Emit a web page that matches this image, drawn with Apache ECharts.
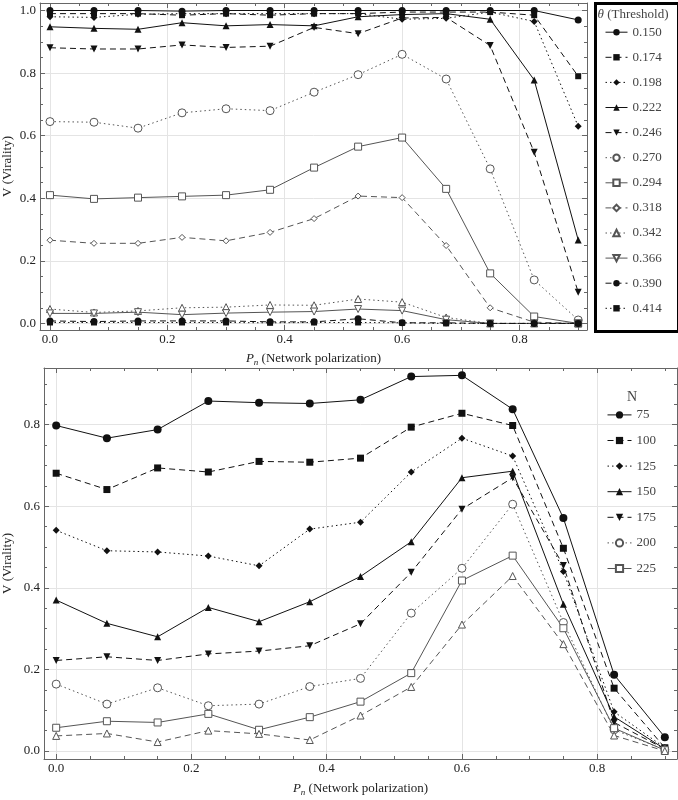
<!DOCTYPE html>
<html><head><meta charset="utf-8">
<script src="https://cdn.jsdelivr.net/npm/echarts@6/dist/echarts.min.js"></script>
<style>html,body{margin:0;padding:0;background:#fff}#c{width:678px;height:800px}</style>
</head><body><div id="c"></div>
<script>
// x positions (P_n)
var xValues = [0, 0.075, 0.15, 0.225, 0.3, 0.375, 0.45, 0.525, 0.6, 0.675, 0.75, 0.825, 0.9];

// Top panel: theta thresholds
var thetaNames = ['0.150','0.174','0.198','0.222','0.246','0.270','0.294','0.318','0.342','0.366','0.390','0.414'];
var t150 = [1.0, 1.0, 1.0, 0.998, 1.0, 1.0, 1.0, 1.0, 1.0, 1.0, 1.0, 1.0, 0.97];
var t174 = [0.99, 0.99, 0.99, 0.985, 0.99, 0.985, 0.99, 0.99, 0.995, 0.995, 0.995, 0.985, 0.79];
var t198 = [0.98, 0.978, 0.988, 0.99, 0.99, 0.99, 0.99, 0.99, 0.972, 0.975, 0.995, 0.965, 0.63];
var t222 = [0.948, 0.943, 0.94, 0.961, 0.951, 0.955, 0.951, 0.98, 0.987, 0.99, 0.972, 0.778, 0.267];
var t246 = [0.881, 0.877, 0.877, 0.89, 0.882, 0.886, 0.946, 0.926, 0.976, 0.978, 0.888, 0.547, 0.1];
var t270 = [0.645, 0.643, 0.624, 0.673, 0.686, 0.68, 0.739, 0.795, 0.86, 0.781, 0.494, 0.139, 0.011];
var t294 = [0.41, 0.398, 0.402, 0.406, 0.41, 0.427, 0.498, 0.565, 0.594, 0.43, 0.16, 0.022, 0.0];
var t318 = [0.266, 0.256, 0.256, 0.275, 0.264, 0.291, 0.335, 0.407, 0.402, 0.249, 0.05, 0.004, 0.0];
var t342 = [0.046, 0.035, 0.04, 0.05, 0.052, 0.059, 0.058, 0.078, 0.068, 0.019, 0.0, 0.0, 0.0];
var t366 = [0.032, 0.032, 0.036, 0.028, 0.033, 0.036, 0.038, 0.046, 0.041, 0.012, 0.0, 0.0, 0.0];
var t390 = [0.008, 0.006, 0.008, 0.008, 0.008, 0.005, 0.005, 0.015, 0.002, 0.002, 0.0, 0.0, 0.0];
var t414 = [0.003, 0.003, 0.003, 0.003, 0.003, 0.002, 0.003, 0.003, 0.002, 0.0, 0.0, 0.0, 0.0];

// Bottom panel: N
var nNames = ['75','100','125','150','175','200','225','250'];
var n75  = [0.798, 0.767, 0.788, 0.858, 0.854, 0.852, 0.861, 0.918, 0.921, 0.838, 0.571, 0.187, 0.034];
var n100 = [0.681, 0.641, 0.694, 0.684, 0.71, 0.708, 0.718, 0.794, 0.828, 0.798, 0.497, 0.154, 0.008];
var n125 = [0.541, 0.491, 0.488, 0.478, 0.454, 0.544, 0.561, 0.684, 0.767, 0.723, 0.44, 0.096, 0.008];
var n150 = [0.37, 0.313, 0.28, 0.352, 0.317, 0.366, 0.428, 0.513, 0.67, 0.686, 0.36, 0.084, 0.005];
var n175 = [0.222, 0.231, 0.222, 0.238, 0.245, 0.258, 0.312, 0.438, 0.593, 0.67, 0.455, 0.07, 0.005];
var n200 = [0.164, 0.115, 0.155, 0.111, 0.115, 0.158, 0.178, 0.338, 0.448, 0.605, 0.315, 0.052, 0.003];
var n225 = [0.057, 0.073, 0.07, 0.091, 0.052, 0.083, 0.121, 0.191, 0.418, 0.479, 0.301, 0.056, 0.002];
var n250 = [0.037, 0.043, 0.022, 0.05, 0.042, 0.027, 0.087, 0.157, 0.31, 0.429, 0.262, 0.038, 0.0];

var topData = [t150,t174,t198,t222,t246,t270,t294,t318,t342,t366,t390,t414];
var botData = [n75,n100,n125,n150,n175,n200,n225,n250];

var FONT = '"Liberation Serif", "DejaVu Serif", serif';
var DOWN = 'path://M0,0L10,0L5,9Z';
var BLACK = '#111', GRAY = '#555';

// style definitions: [symbol, filled, lineType, size]
var DASH = [6,4], DOT = [1.5,3];
var topStyles = [
  ['circle',true,'solid',7],['rect',true,DASH,6],['diamond',true,DOT,7],['triangle',true,'solid',7],
  [DOWN,true,DASH,7],['circle',false,DOT,8],['rect',false,'solid',7],['diamond',false,DASH,6],
  ['triangle',false,DOT,7],[DOWN,false,'solid',7],['circle',true,DASH,7],['rect',true,DOT,6]
];
var botStyles = [
  ['circle',true,'solid',8],['rect',true,DASH,7],['diamond',true,DOT,7],['triangle',true,'solid',7],
  [DOWN,true,DASH,7],['circle',false,DOT,8],['rect',false,'solid',7],['triangle',false,DASH,7]
];

function pairs(arr){ return xValues.map(function(x,i){ return [x, arr[i]]; }); }
function mkSeries(name, arr, st, xi, yi){
  var col = st[1] ? BLACK : GRAY;
  return {
    type:'line', name:name, xAxisIndex:xi, yAxisIndex:yi, data:pairs(arr),
    symbol:st[0], symbolSize:st[3], showSymbol:true, clip:false, animation:false,
    lineStyle:{color:col, width:1, type:st[2]},
    itemStyle: st[1] ? {color:BLACK, borderWidth:0} : {color:'#fff', borderColor:GRAY, borderWidth:1},
    emphasis:{disabled:true}
  };
}
var series = [];
thetaNames.forEach(function(n,i){ series.push(mkSeries(n, topData[i], topStyles[i], 0, 0)); });
nNames.forEach(function(n,i){ series.push(mkSeries(n, botData[i], botStyles[i], 2, 2)); });

var fmt = function(v){ return v.toFixed(1); };
var nameRich = {
  i:{fontFamily:FONT, fontStyle:'italic', fontSize:13, color:'#222'},
  s:{fontFamily:FONT, fontStyle:'italic', fontSize:9, color:'#222', padding:[7,0,0,0]},
  t:{fontFamily:FONT, fontSize:13, color:'#222'}
};
function xAx(gi, min, max, main, gap){
  var a = {
    type:'value', gridIndex:gi, min:min, max:max, splitNumber:5, position: main ? 'bottom':'top',
    axisLine:{show:true, onZero:false, lineStyle:{color:'#666', width:1}},
    axisTick:{show:true, inside:true, length:5, lineStyle:{color:'#666'}},
    minorTick:{show:true, splitNumber:4, length:3, lineStyle:{color:'#666'}},
    splitLine:{show:main, lineStyle:{color:'#e4e4e4', width:1}},
    axisLabel:{show:main, formatter:fmt, fontFamily:FONT, fontSize:13, color:'#222', margin:3, showMinLabel:false, showMaxLabel:false}
  };
  if (main){
    a.name = '{i|P}{s|n}{t| (Network polarization)}';
    a.nameLocation = 'middle'; a.nameGap = gap; a.nameMoveOverlap = false;
    a.nameTextStyle = {rich:nameRich, fontFamily:FONT, fontSize:13};
  }
  return a;
}
function yAx(gi, min, max, main, gap){
  var a = {
    type:'value', gridIndex:gi, min:min, max:max, splitNumber:5, position: main ? 'left':'right',
    axisLine:{show:true, onZero:false, lineStyle:{color:'#666', width:1}},
    axisTick:{show:true, inside:true, length:5, lineStyle:{color:'#666'}},
    minorTick:{show:true, splitNumber:4, length:3, lineStyle:{color:'#666'}},
    splitLine:{show:main, lineStyle:{color:'#e4e4e4', width:1}},
    axisLabel:{show:main, formatter:fmt, fontFamily:FONT, fontSize:13, color:'#222', margin:4, showMinLabel:false, showMaxLabel:false}
  };
  if (main){
    a.name = 'V (Virality)'; a.nameLocation = 'middle'; a.nameGap = gap; a.nameMoveOverlap = false;
    a.nameTextStyle = {fontFamily:FONT, fontSize:13, color:'#222'};
  }
  return a;
}

function grid(l,t,w,h){ return {left:l, top:t, width:w, height:h, containLabel:false, outerBoundsMode:'none'}; }

var legendText = {fontFamily:FONT, fontSize:13, color:'#444'};
var option = {
  backgroundColor:'#fff',
  animation:false,
  grid:[ grid(40,3,547,327), grid(40,3,547,327), grid(44,368,633,391), grid(44,368,633,391) ],
  xAxis:[
    xAx(0, -0.017, 0.915, true, 21),
    xAx(1, -0.017, 0.915, false),
    xAx(2, -0.018, 0.918, true, 22),
    xAx(3, -0.018, 0.918, false)
  ],
  yAxis:[
    yAx(0, -0.021, 1.024, true, 26),
    yAx(1, -0.021, 1.024, false),
    yAx(2, -0.0196, 0.939, true, 30),
    yAx(3, -0.0196, 0.939, false)
  ],
  legend:[
    {data:thetaNames, orient:'vertical', left:605, top:25.7, itemWidth:22, itemHeight:8, itemGap:12.1,
     textStyle:legendText, selectedMode:false, padding:0, lineStyle:{width:1}},
    {data:nNames.slice(0,7), orient:'vertical', left:607, top:408.4, itemWidth:24, itemHeight:9, itemGap:12.6,
     textStyle:legendText, selectedMode:false, padding:0, lineStyle:{width:1}}
  ],
  graphic:[
    {type:'rect', left:593, top:1, shape:{width:83, height:328}, style:{fill:'none', stroke:'#000', lineWidth:3}, z:10},
    {type:'text', x:633, y:15, style:{
      text:'{g|θ} {t|(Threshold)}', align:'center', verticalAlign:'middle',
      rich:{g:{fontFamily:FONT, fontStyle:'italic', fontSize:13, fill:'#444'}, t:{fontFamily:FONT, fontSize:13, fill:'#444'}}
    }, z:10},
    {type:'text', x:632, y:397, style:{text:'N', align:'center', verticalAlign:'middle', fontFamily:FONT, fontSize:14, fill:'#444'}, z:10}
  ],
  series:series
};
var chart = echarts.init(document.getElementById('c'), null, {renderer:'canvas'});
chart.setOption(option);
</script></body></html>
